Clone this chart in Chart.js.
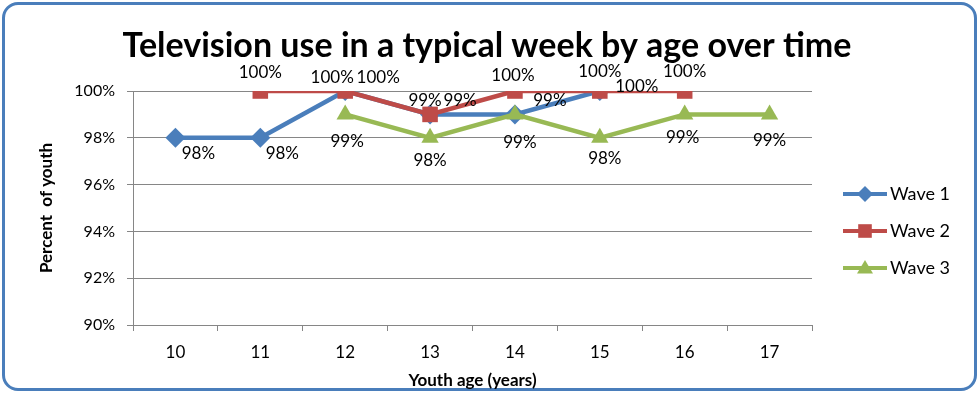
<!DOCTYPE html>
<html>
<head>
<meta charset="utf-8">
<script src="https://cdn.jsdelivr.net/npm/chart.js@4.4.1/dist/chart.umd.min.js"></script>
<style>
  html, body { margin: 0; padding: 0; background: #fff; }
  #wrap { position: relative; width: 980px; height: 394px; }
  #frame { position: absolute; left: 2px; top: 2px; width: 975px; height: 389px; box-sizing: border-box;
           border: 3px solid #4a7ebb; border-radius: 16px; }
  canvas { position: absolute; left: 0; top: 0; }
</style>
</head>
<body>
<div id="wrap">
  <div id="frame"></div>
  <canvas id="chart" width="980" height="394"></canvas>
</div>
<script>
const ages = ['10', '11', '12', '13', '14', '15', '16', '17'];
const wave1 = [98, 98, 100, 99, 99, 100, null, null];
const wave2 = [null, 100, 100, 99, 100, 100, 100, null];
const wave3 = [null, null, 99, 98, 99, 98, 99, 99];
const yTicks = [90, 92, 94, 96, 98, 100];
const titleText = 'Television use in a typical week by age over time';

const FONT = 'Lato, "Noto Sans", sans-serif';

// offsets of the value labels, per dataset and point
const labelOffsets = [
  [[23, 16], [22, 16], [33, -13], [30, -14], [35, -14], [37, -4], null, null],
  [null, [0, -18], [-13, -13], [-5, -14], [-2, -15], [0, -19], [0, -19], null],
  [null, null, [2, 27], [0, 23], [5, 28], [5, 21], [-2, 23], [0, 26]]
];

const valueLabels = {
  id: 'valueLabels',
  afterDatasetsDraw(chart) {
    const ctx = chart.ctx;
    ctx.save();
    ctx.font = '17px ' + FONT;
    ctx.fillStyle = '#000';
    ctx.textAlign = 'center';
    ctx.textBaseline = 'middle';
    chart.data.datasets.forEach((ds, di) => {
      const meta = chart.getDatasetMeta(di);
      ds.data.forEach((v, i) => {
        if (v === null) return;
        const p = meta.data[i];
        const off = labelOffsets[di][i] || [0, 0];
        ctx.fillText(v + '%', p.x + off[0], p.y + off[1]);
      });
    });
    ctx.restore();
  }
};

function drawMarker(ctx, style, x, y, r, color) {
  ctx.fillStyle = color;
  ctx.beginPath();
  if (style === 'rectRot') {
    ctx.moveTo(x, y - r); ctx.lineTo(x + r, y); ctx.lineTo(x, y + r); ctx.lineTo(x - r, y);
  } else if (style === 'rect') {
    ctx.rect(x - r * 0.85, y - r * 0.85, r * 1.7, r * 1.7);
  } else {
    ctx.moveTo(x, y - r); ctx.lineTo(x + r, y + r * 0.7); ctx.lineTo(x - r, y + r * 0.7);
  }
  ctx.closePath();
  ctx.fill();
}

const titleAndLegend = {
  id: 'titleAndLegend',
  afterDraw(chart) {
    const ctx = chart.ctx;
    ctx.save();
    ctx.font = 'bold 34px ' + FONT;
    ctx.fillStyle = '#000';
    ctx.textAlign = 'center';
    ctx.textBaseline = 'middle';
    ctx.fillText(titleText, 487, 46);

    const x0 = chart.chartArea.right + 31;
    const y0 = 194;
    ctx.font = '18px ' + FONT;
    ctx.textAlign = 'left';
    chart.data.datasets.forEach((ds, i) => {
      const y = y0 + i * 37;
      ctx.strokeStyle = ds.borderColor;
      ctx.lineWidth = 4;
      ctx.beginPath();
      ctx.moveTo(x0, y); ctx.lineTo(x0 + 44, y);
      ctx.stroke();
      drawMarker(ctx, ds.pointStyle, x0 + 22, y, 8, ds.borderColor);
      ctx.fillStyle = '#000';
      ctx.fillText(ds.label, x0 + 47, y);
    });
    ctx.restore();
  }
};

const ctx = document.getElementById('chart').getContext('2d');
const chart = new Chart(ctx, {
  type: 'line',
  data: {
    labels: ages,
    datasets: [
      { label: 'Wave 1', data: wave1, borderColor: '#4a7ebb', backgroundColor: '#4a7ebb',
        pointStyle: 'rectRot', pointRadius: 10, order: 3 },
      { label: 'Wave 2', data: wave2, borderColor: '#be4b48', backgroundColor: '#be4b48',
        pointStyle: 'rect', pointRadius: 11, order: 2 },
      { label: 'Wave 3', data: wave3, borderColor: '#98b954', backgroundColor: '#98b954',
        pointStyle: 'triangle', pointRadius: 10, order: 1 }
    ]
  },
  options: {
    responsive: false,
    animation: false,
    devicePixelRatio: 1,
    layout: { padding: { left: 0, right: 168, top: 91, bottom: 0 } },
    elements: {
      line: { borderWidth: 4.5, tension: 0 },
      point: { borderWidth: 0 }
    },
    plugins: {
      legend: { display: false },
      tooltip: { enabled: false },
      title: { display: false }
    },
    scales: {
      x: {
        offset: true,
        afterFit: s => { s.height = 69; },
        grid: { offset: true, drawOnChartArea: false, color: '#868686', tickLength: 6, tickColor: '#868686' },
        border: { color: '#868686', width: 1 },
        ticks: { color: '#000', font: { family: FONT, size: 17 }, padding: 11 },
        title: { display: true, text: 'Youth age (years)', color: '#000',
                 font: { family: FONT, size: 17, weight: 'bold' }, padding: { top: 0, bottom: 3 } }
      },
      y: {
        min: 90,
        max: 100,
        afterBuildTicks: s => { s.ticks = yTicks.map(v => ({ value: v })); },
        afterFit: s => { s.width = 133; },
        grid: { color: '#868686', tickLength: 6, tickColor: '#868686' },
        border: { color: '#868686', width: 1 },
        ticks: { color: '#000', font: { family: FONT, size: 16 }, padding: 12,
                 callback: v => v + '%' },
        title: { display: true, text: 'Percent  of youth', color: '#000',
                 font: { family: FONT, size: 17, weight: 'bold' }, padding: { top: 36, bottom: 0 } }
      }
    }
  },
  plugins: [valueLabels, titleAndLegend]
});
</script>
</body>
</html>
